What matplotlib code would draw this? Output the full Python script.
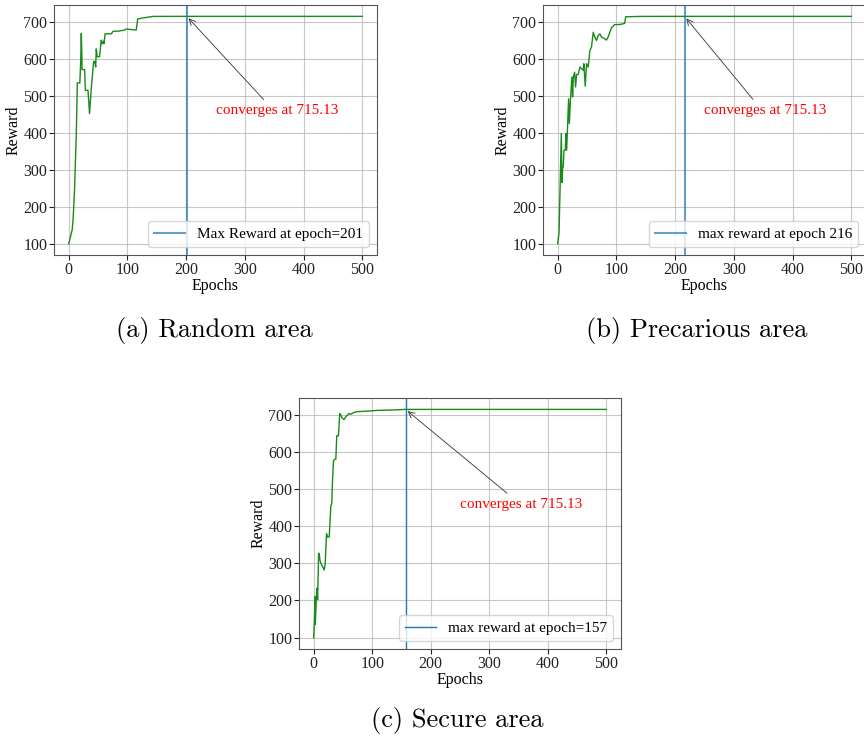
import matplotlib
matplotlib.use("Agg")
import matplotlib.pyplot as plt

# --- data (epoch, reward knots) ---
random_epochs = [0, 3, 6, 7.5, 10, 13, 14.7, 19, 20.5, 21.5, 22.6, 22.8, 27.2, 28.3, 32.9, 35.5,
                 39, 42.5, 44.5, 46, 47, 48.5, 52.6, 55.5, 57, 59, 60, 62, 67, 72.8, 75.6,
                 84, 95, 98, 115, 117.5, 127, 144, 170, 201, 500]
random_rewards = [100, 118, 138, 165, 246, 399, 535, 535, 595, 669, 596, 571, 571, 515, 515, 452,
                  530, 593, 593, 578, 627, 606, 606, 651, 641, 648, 641, 668, 668, 668, 675,
                  675, 678, 681, 678, 708, 711, 715, 715.1, 715.13, 715.13]

precarious_epochs = [0, 2.3, 6.2, 7.3, 8.5, 9.6, 10.7, 13, 14, 15.3, 18.6, 19.8, 22, 24.3, 25.4,
                     26.6, 28.8, 30.5, 32.2, 35, 37.9, 43.5, 44.6, 46.9, 49.2, 52, 54.8, 57.6,
                     60.5, 63.3, 66.1, 68.9, 71.8, 74.6, 77.4, 83, 85.9, 91.5, 97.2, 105.6,
                     114, 115.8, 139.5, 216, 500]
precarious_rewards = [100, 129, 398, 265, 308, 308, 353, 353, 398, 353, 492, 425, 497, 551, 497,
                      551, 564, 524, 558, 558, 578, 569, 587, 526, 587, 578, 623, 632,
                      672, 659, 650, 663, 668, 659, 657, 651, 659, 684, 693, 693,
                      696, 714, 715, 715.13, 715.13]

secure_epochs = [0, 1.1, 2.3, 2.8, 4.5, 5.6, 6.8, 8.5, 9.6, 10.7, 12.4, 15.3, 18, 19.8, 22,
                 23.7, 26.6, 29.4, 31, 32.2, 33.9, 36.2, 37.9, 39.5, 42.4, 44.6, 46.3, 49.2,
                 52, 54.8, 57.6, 60.5, 63.3, 68.9, 74.6, 97, 108.5, 131, 157, 500]
secure_rewards = [100, 139, 211, 135, 202, 233, 202, 327, 327, 309, 300, 291, 282, 300, 380,
                  371, 371, 456, 461, 523, 577, 581, 581, 644, 644, 704, 700, 691,
                  688, 695, 700, 704, 702, 707, 709, 711, 712.5, 713.4, 715.13, 715.13]

best_epochs = [201, 216, 157]
converged_value = 715.13
legend_labels = ["Max Reward at epoch=201", "max reward at epoch 216", "max reward at epoch=157"]
captions = ["(a) Random area", "(b) Precarious area", "(c) Secure area"]

SERIF = "Liberation Serif"


def draw_panel(ax, epochs, rewards, best_epoch, label, vline_lw, vline_alpha):
    ax.plot(epochs, rewards, color="#1a8a1a", lw=1.0)
    ax.axvline(best_epoch, color="#1f77b4", lw=vline_lw, alpha=vline_alpha, label=label)
    ax.annotate(
        f"converges at {converged_value:.2f}",
        xy=(best_epoch, converged_value),
        xytext=(250, 450),
        color="red",
        fontsize=11,
        family=SERIF,
        arrowprops=dict(arrowstyle="->", color="#333333", lw=0.6, relpos=(0.43, 1.0)),
    )
    ax.grid(True, color="#b0b0b0", lw=0.8, alpha=0.7)
    ax.set_xticks([0, 100, 200, 300, 400, 500])
    ax.set_yticks([100, 200, 300, 400, 500, 600, 700])
    ax.tick_params(axis="both", length=3.5, pad=1.2, colors="#222222")
    ax.set_xlabel("Epochs", family=SERIF, fontsize=11.5, labelpad=0.3)
    ax.set_ylabel("Reward", family=SERIF, fontsize=11.5, labelpad=1.5)
    for t in ax.get_xticklabels() + ax.get_yticklabels():
        t.set_family(SERIF)
        t.set_fontsize(11.5)
    for s in ax.spines.values():
        s.set_color("#555555")
    ax.legend(loc="lower right", prop={"family": SERIF, "size": 11})


fig = plt.figure(figsize=(8.64, 7.4), dpi=100)
W, H = 864, 740

# axes rectangles in pixels: left, top, right, bottom
boxes = [(54, 5, 377, 255), (543, 5, 866, 255), (299, 398, 621, 649)]
series = [(random_epochs, random_rewards), (precarious_epochs, precarious_rewards),
          (secure_epochs, secure_rewards)]
vline_style = [(1.5, 0.7), (1.5, 0.7), (1.0, 1.0)]

for box, (ep, rw), best, lab, (lw, al) in zip(boxes, series, best_epochs, legend_labels, vline_style):
    l, t, r, b = box
    ax = fig.add_axes([l / W, 1 - b / H, (r - l) / W, (b - t) / H])
    draw_panel(ax, ep, rw, best, lab, lw, al)

caption_pos = [(214, 331), (697, 331), (457, 720)]
for (cx, cy), cap in zip(caption_pos, captions):
    fig.text(cx / W, 1 - cy / H, cap, family="cmr10", fontsize=19, ha="center", va="center")

fig.savefig("out.png", dpi=100)
